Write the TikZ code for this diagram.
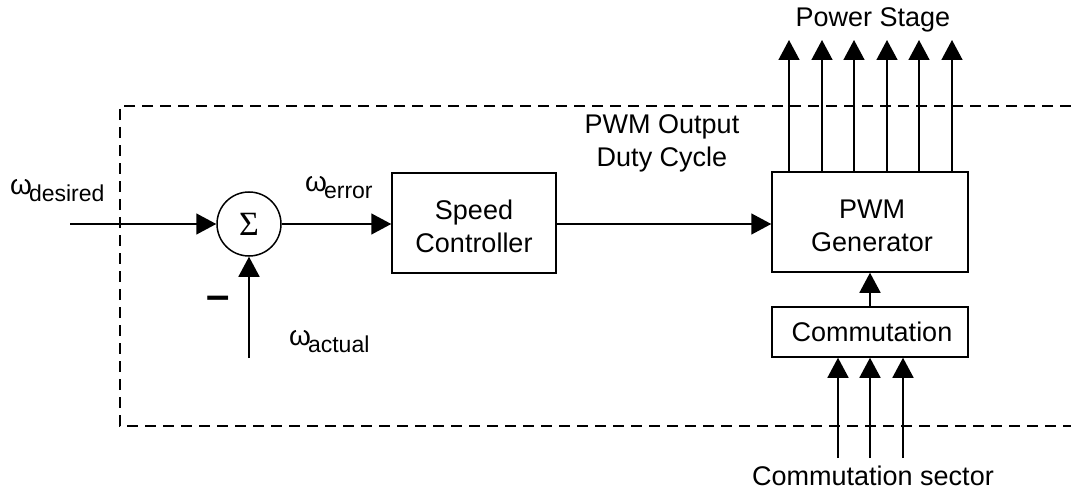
\documentclass[tikz,border=0pt]{standalone}
\usepackage{fontspec}
\setmainfont{Liberation Sans}
\newfontfamily\sigmafont{Liberation Serif}
\usetikzlibrary{arrows.meta}
\tikzset{
  conn/.style={line width=1.5pt,-{Triangle[length=20pt,width=21pt]}},
  blockbox/.style={draw,line width=1.5pt,rectangle,inner sep=0pt},
  sumnode/.style={draw,line width=1.5pt,circle,minimum size=64pt,inner sep=0pt},
  lbl/.style={font=\fontsize{27}{33}\selectfont,align=center,inner sep=0pt},
  boundary/.style={line width=2.6pt,dash pattern=on 11pt off 7pt}
}
\newcommand{\wsub}[1]{\fontsize{28}{30}\selectfont ω\kern-3pt\raisebox{-7pt}{\fontsize{23}{24}\selectfont #1}}
\begin{document}
\begin{tikzpicture}[x=1pt,y=-1pt]
\useasboundingbox (0,0) rectangle (1071,492);
% dashed boundary
\draw[boundary] (1071,106) -- (120,106) -- (120,426) -- (1071,426);
% nodes
\node[sumnode] (sum) at (249,224) {\sigmafont\fontsize{34}{34}\selectfont Σ};
\node[blockbox,minimum width=164pt,minimum height=100pt] (speed) at (474,223) {};
\node[lbl] (speedtxt) at (474,226) {Speed\\Controller};
\node[blockbox,minimum width=196pt,minimum height=100pt] (pwm) at (870,222) {};
\node[lbl] (pwmtxt) at (872,226) {PWM\\Generator};
\node[blockbox,minimum width=196pt,minimum height=50pt] (comm) at (870,332) {};
\node[lbl] (commtxt) at (872,332) {Commutation};
% coordinates
\coordinate (in) at (70,224);
\coordinate (act) at (249,358);
% connectors
\draw[conn] (in) -- (sum.west);
\draw[conn] (act) -- (sum.south);
\draw[conn] (sum.east) -- (speed.west |- sum.east);
\draw[conn] (speed.east |- sum.east) -- (pwm.west |- sum.east);
\draw[conn] (comm.north) -- (pwm.south);
\foreach \i/\x in {1/789,2/822,3/854,4/887,5/919,6/952}{
  \coordinate (o\i) at (\x,40);
  \draw[conn] (pwm.north -| o\i) -- (o\i);
}
\foreach \i/\x in {1/838,2/870,3/903}{
  \coordinate (c\i) at (\x,458);
  \draw[conn] (c\i) -- (comm.south -| c\i);
}
% labels
\node[inner sep=0pt,anchor=base west] (wdes) at (10,194) {\wsub{desired}};
\node[inner sep=0pt,anchor=base west] (werr) at (305,191) {\wsub{error}};
\node[inner sep=0pt,anchor=base west] (wact) at (289,345) {\wsub{actual}};
\node[inner sep=0pt] (minus) at (218,303) {\fontsize{42}{42}\selectfont\bfseries –};
\node[lbl,anchor=base] (duty) at (662,167) {PWM Output\\Duty Cycle};
\node[lbl,anchor=base] (power) at (873,27) {Power Stage};
\node[lbl,anchor=base] (sector) at (873,485) {Commutation sector};
\end{tikzpicture}
\end{document}
